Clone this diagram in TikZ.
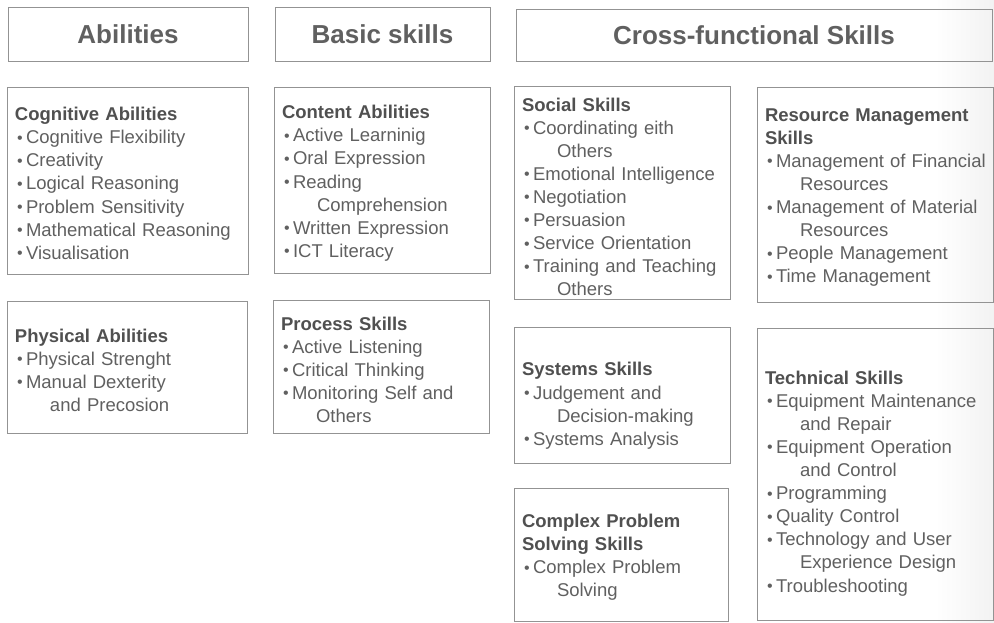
\documentclass[tikz,border=0pt]{standalone}
\usepackage{fontspec}
\setmainfont{Liberation Sans}
\usetikzlibrary{calc}
\colorlet{boxgray}{gray!85}
\definecolor{textgray}{HTML}{606060}
\definecolor{titlegray}{HTML}{505050}
\newcommand{\bul}{\hspace*{2pt}\makebox[9pt][l]{\raisebox{0.6pt}{\fontsize{16}{16}\selectfont •}}}
\newcommand{\cont}{\hspace*{35pt}}
\newcommand{\ttl}[1]{{\bfseries\color{titlegray}#1}}
\newcommand{\lift}[1]{\rule{0pt}{#1pt}}
\tikzset{
  header/.style={draw=boxgray, font=\fontsize{26}{30}\selectfont\bfseries, text=textgray},
  skillbox/.style 2 args={draw=boxgray, inner xsep=8pt, align=left, text width=#1, minimum height=#2,
    font=\fontsize{18.5}{23.1}\selectfont, text=textgray}
}
\begin{document}
\begin{tikzpicture}[x=1pt,y=-1pt]
            % page
            \useasboundingbox (0,0) rectangle (994,622);
            \fill[white] (0,0) rectangle (994,622);
            \fill[left color=white, right color=gray!10] (935,0) rectangle (994,622);
            % headers
            \node[header, minimum width=240, minimum height=54] (abilities) at (128,34) {Abilities};
            \node[header, minimum width=215, minimum height=54] (basic) at (382.5,34) {Basic skills};
            \node[header, minimum width=476, minimum height=52] (cross) at (754,35) {Cross-functional Skills};
            % abilities column
            \node[skillbox={225pt}{187}] (cognitive) at (127.5,180.5) {\lift{19}\ttl{Cognitive Abilities}\\
                \bul Cognitive Flexibility\\ \bul Creativity\\ \bul Logical Reasoning\\
                \bul Problem Sensitivity\\ \bul Mathematical Reasoning\\ \bul Visualisation};
            \node[skillbox={224pt}{132}] (physical) at (127,367) {\lift{20}\ttl{Physical Abilities}\\
                \bul Physical Strenght\\ \bul Manual Dexterity\\ \cont and Precosion};
            % basic skills column
            \node[skillbox={200pt}{186}] (content) at (382,180) {\lift{20}\ttl{Content Abilities}\\
                \bul Active Learninig\\ \bul Oral Expression\\ \bul Reading\\ \cont Comprehension\\
                \bul Written Expression\\ \bul ICT Literacy};
            \node[skillbox={200pt}{133}] (process) at (381,366.5) {\lift{20}\ttl{Process Skills}\\
                \bul Active Listening\\ \bul Critical Thinking\\ \bul Monitoring Self and\\ \cont Others};
            % cross-functional skills, left
            \node[skillbox={200pt}{212}] (social) at (622,193) {\lift{21}\ttl{Social Skills}\\
                \bul Coordinating eith\\ \cont Others\\ \bul Emotional Intelligence\\ \bul Negotiation\\
                \bul Persuasion\\ \bul Service Orientation\\ \bul Training and Teaching\\ \cont Others};
            \node[skillbox={200pt}{136}] (systems) at (622,395) {\lift{35}\ttl{Systems Skills}\\
                \bul Judgement and\\ \cont Decision-making\\ \bul Systems Analysis};
            \node[skillbox={198pt}{133}] (complex) at (621,554.5) {\lift{19}\ttl{Complex Problem}\\ \ttl{Solving Skills}\\
                \bul Complex Problem\\ \cont Solving};
            % cross-functional skills, right
            \node[skillbox={220pt}{215}] (resource) at (875,194.5) {\lift{19}\ttl{Resource Management}\\ \ttl{Skills}\\
                \bul \mbox{Management of Financial}\\ \cont Resources\\ \bul \mbox{Management of Material}\\ \cont Resources\\
                \bul People Management\\ \bul Time Management};
            \node[skillbox={220pt}{292}] (technical) at (875,474) {\lift{32}\ttl{Technical Skills}\\
                \bul \mbox{Equipment Maintenance}\\ \cont and Repair\\ \bul Equipment Operation\\ \cont and Control\\
                \bul Programming\\ \bul Quality Control\\ \bul Technology and User\\ \cont Experience Design\\
                \bul Troubleshooting};
        \end{tikzpicture}
\end{document}
